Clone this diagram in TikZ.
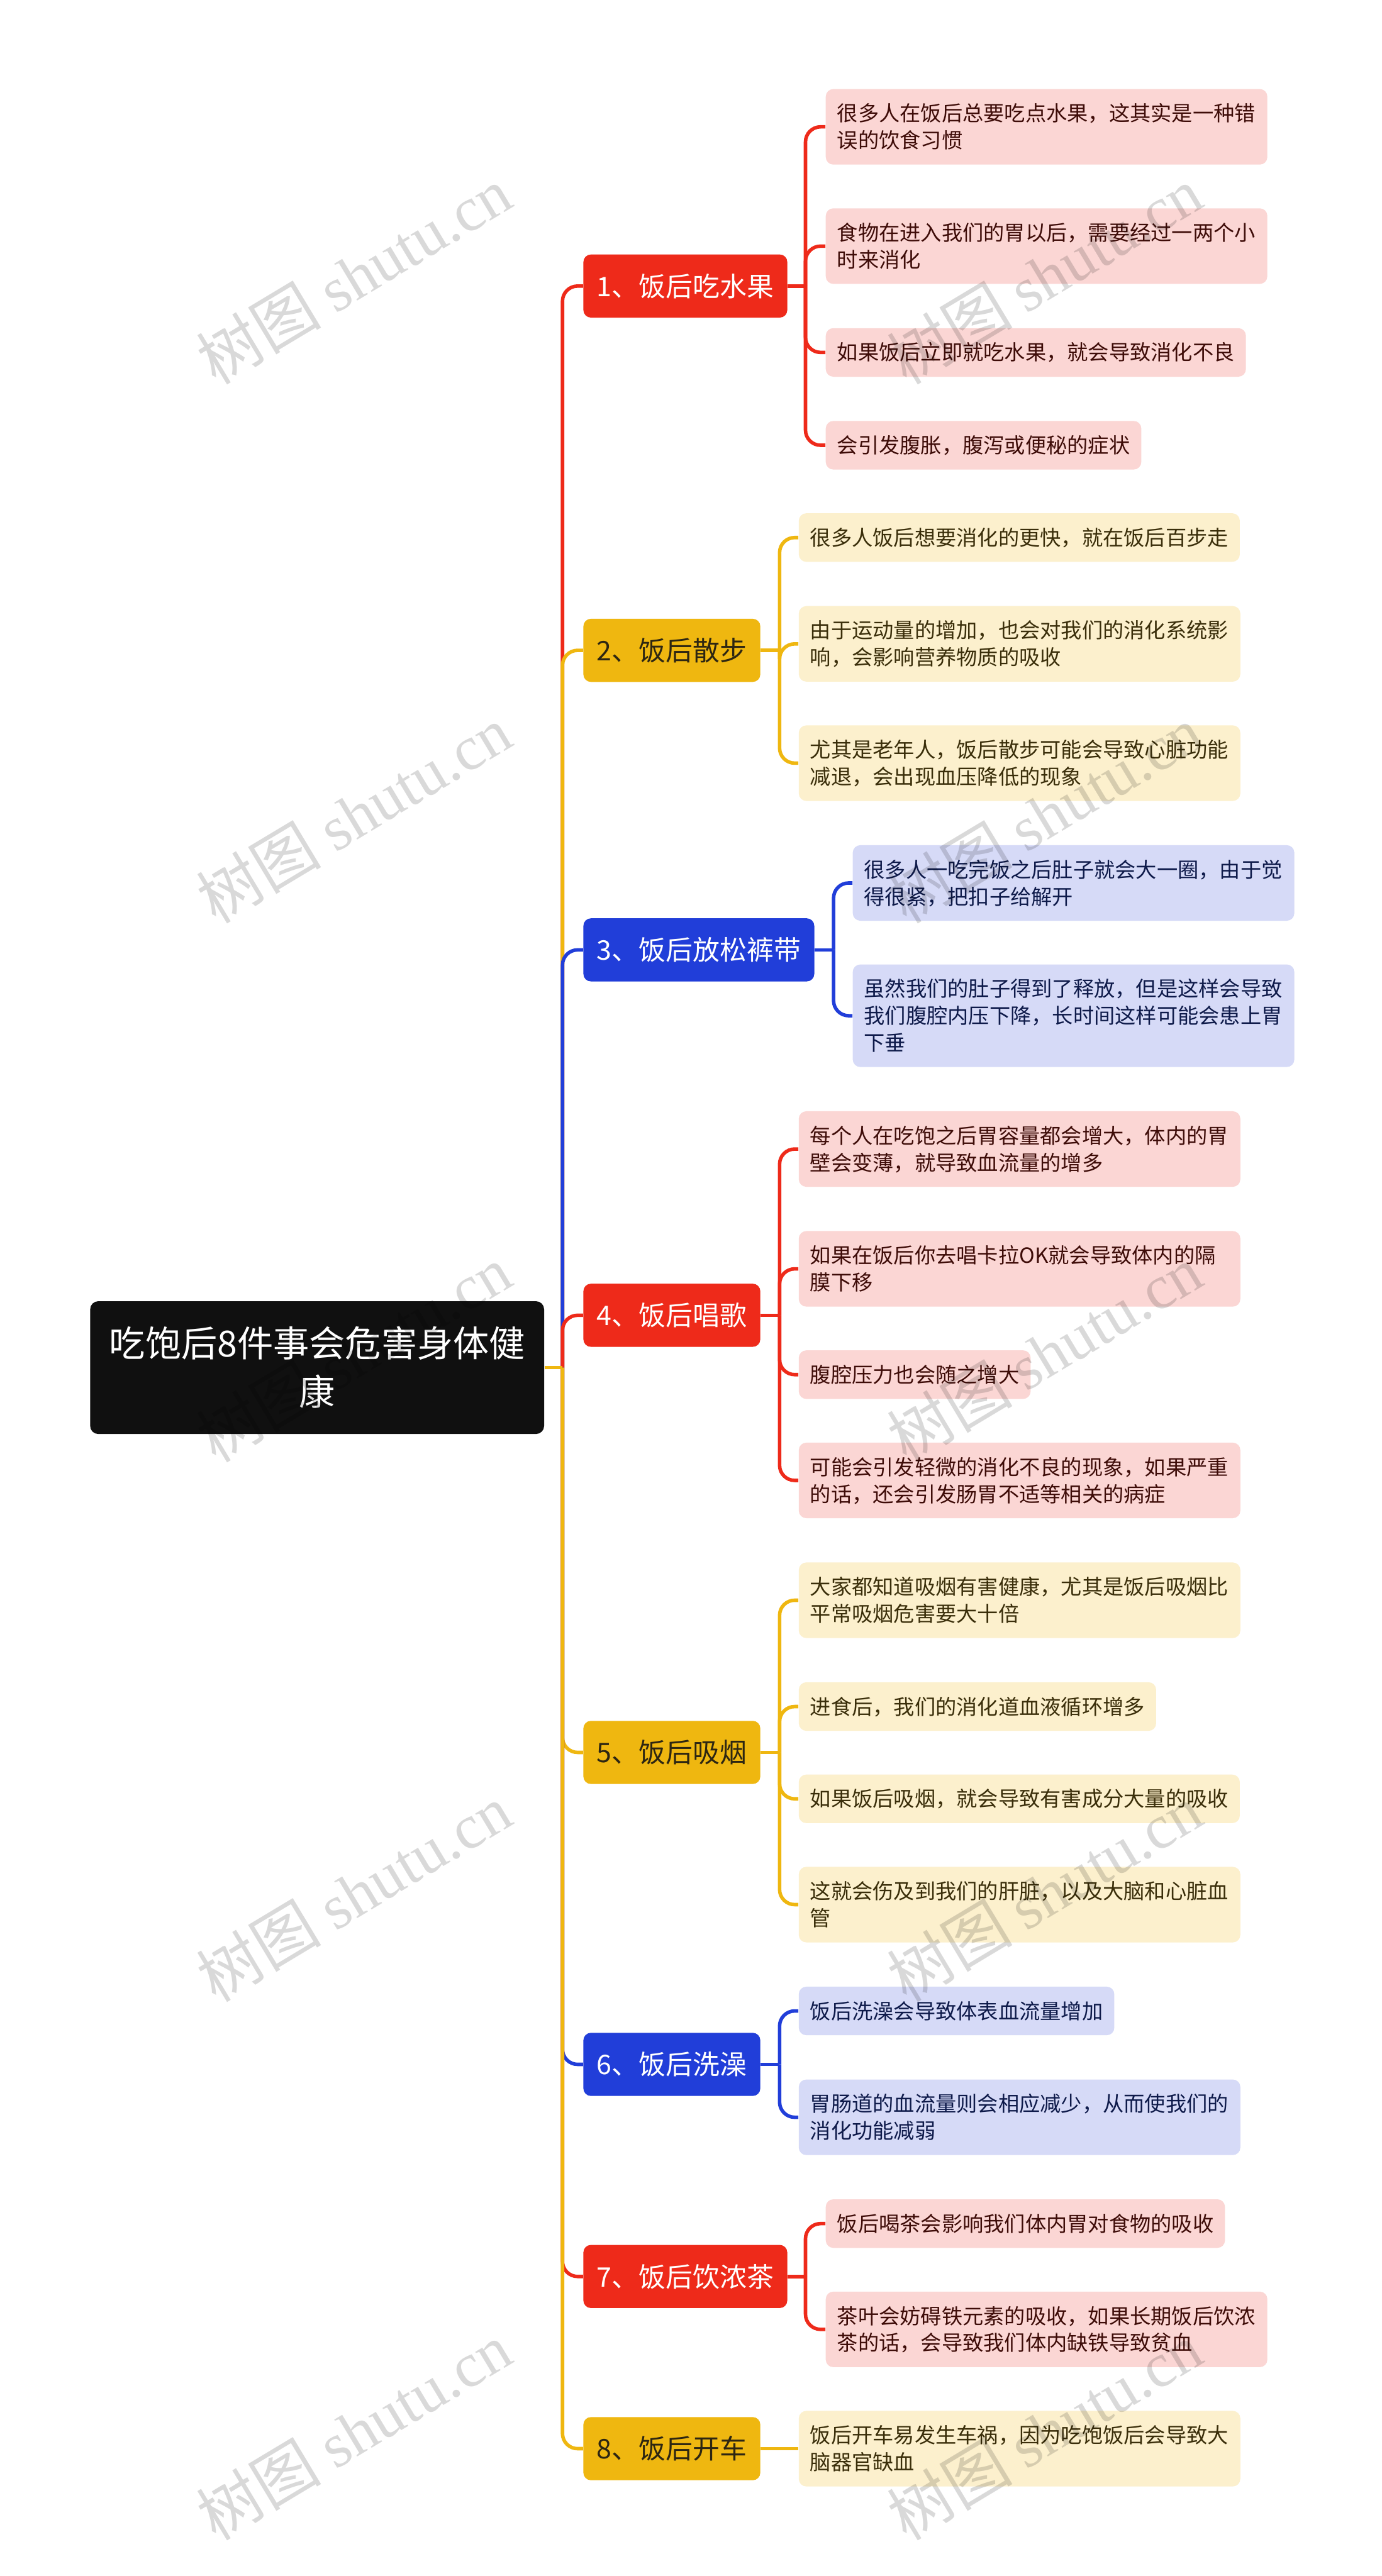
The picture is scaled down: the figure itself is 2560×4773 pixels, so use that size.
\documentclass[tikz,border=0pt]{standalone}
\usepackage{fontspec}
\setmainfont{Noto Sans CJK SC}
\newfontfamily\wmlatin{Liberation Serif}
\definecolor{cred}{RGB}{238,42,26}
\definecolor{cyel}{RGB}{239,183,16}
\definecolor{cblu}{RGB}{33,62,217}
\definecolor{lred}{RGB}{251,214,212}
\definecolor{lyel}{RGB}{252,240,205}
\definecolor{lblu}{RGB}{214,218,247}
\definecolor{tred}{RGB}{62,12,8}
\definecolor{tyel}{RGB}{58,46,10}
\definecolor{tblu}{RGB}{14,26,74}
\definecolor{tybr}{RGB}{45,38,18}
\definecolor{rootbg}{RGB}{16,16,16}
\tikzset{
 conn/.style={line width=0.65mm, rounded corners=2.8mm},
 boxbase/.style={rounded corners=1.4mm, inner ysep=0pt, anchor=west},
 branchbox/.style={boxbase, inner xsep=2.5mm, font=\fontsize{5mm}{6mm}\selectfont,
   execute at begin node={\rule{0pt}{7.75mm}}, execute at end node={\rule[-3.95mm]{0pt}{3.95mm}}},
 leafbox/.style={boxbase, inner xsep=2.1mm, align=left, font=\fontsize{3.875mm}{5mm}\selectfont,
   execute at begin node={\rule{0pt}{5.97mm}}, execute at end node={\rule[-3.03mm]{0pt}{3.03mm}}},
 multi/.style={text width=77.6mm},
 redb/.style={branchbox, fill=cred, text=white},
 yelb/.style={branchbox, fill=cyel, text=tybr},
 blub/.style={branchbox, fill=cblu, text=white},
 redl/.style={leafbox, fill=lred, text=tred},
 yell/.style={leafbox, fill=lyel, text=tyel},
 blul/.style={leafbox, fill=lblu, text=tblu},
 rootbox/.style={fill=rootbg, text=white, rounded corners=1.5mm, text width=77mm, inner xsep=3.55mm, inner ysep=0pt,
   align=center, font=\fontsize{6.67mm}{9mm}\selectfont,
   execute at begin node={\rule{0pt}{10.33mm}}, execute at end node={\rule[-5.27mm]{0pt}{5.27mm}}},
 wm/.style={text=black, text opacity=0.15, rotate=31, font=\fontsize{11.6mm}{11.6mm}\selectfont, inner sep=0pt},
}
\begin{document}
\begin{tikzpicture}[x=0.1mm, y=-0.1mm]
\fill[white] (0,0) rectangle (2560,4773);
\useasboundingbox (0,0) rectangle (2560,4773);

% root
\node[rootbox] (root) at (587.5,2534) {吃饱后8件事会危害身体健\\康};
\coordinate (J) at (1042,2534);

% branches
\node[redb] (b1) at (1080,530) {1、饭后吃水果};
\node[yelb] (b2) at (1080,1205) {2、饭后散步};
\node[blub] (b3) at (1080,1760) {3、饭后放松裤带};
\node[redb] (b4) at (1080,2437) {4、饭后唱歌};
\node[yelb] (b5) at (1080,3247) {5、饭后吸烟};
\node[blub] (b6) at (1080,3825) {6、饭后洗澡};
\node[redb] (b7) at (1080,4218) {7、饭后饮浓茶};
\node[yelb] (b8) at (1080,4537) {8、饭后开车};

% leaves
\node[redl, multi] (l1a) at (1529,235) {很多人在饭后总要吃点水果，这其实是一种错\\误的饮食习惯};
\node[redl, multi] (l1b) at (1529,456) {食物在进入我们的胃以后，需要经过一两个小\\时来消化};
\node[redl] (l1c) at (1529,653) {如果饭后立即就吃水果，就会导致消化不良};
\node[redl] (l1d) at (1529,825) {会引发腹胀，腹泻或便秘的症状};

\node[yell] (l2a) at (1479,996) {很多人饭后想要消化的更快，就在饭后百步走};
\node[yell, multi] (l2b) at (1479,1193) {由于运动量的增加，也会对我们的消化系统影\\响，会影响营养物质的吸收};
\node[yell, multi] (l2c) at (1479,1414) {尤其是老年人，饭后散步可能会导致心脏功能\\减退，会出现血压降低的现象};

\node[blul, multi] (l3a) at (1579,1636) {很多人一吃完饭之后肚子就会大一圈，由于觉\\得很紧，把扣子给解开};
\node[blul, multi] (l3b) at (1579,1882) {虽然我们的肚子得到了释放，但是这样会导致\\我们腹腔内压下降，长时间这样可能会患上胃\\下垂};

\node[redl, multi] (l4a) at (1479,2129) {每个人在吃饱之后胃容量都会增大，体内的胃\\壁会变薄，就导致血流量的增多};
\node[redl, multi] (l4b) at (1479,2351) {如果在饭后你去唱卡拉OK就会导致体内的隔\\膜下移};
\node[redl] (l4c) at (1479,2547) {腹腔压力也会随之增大};
\node[redl, multi] (l4d) at (1479,2743) {可能会引发轻微的消化不良的现象，如果严重\\的话，还会引发肠胃不适等相关的病症};

\node[yell, multi] (l5a) at (1479,2965) {大家都知道吸烟有害健康，尤其是饭后吸烟比\\平常吸烟危害要大十倍};
\node[yell] (l5b) at (1479,3162) {进食后，我们的消化道血液循环增多};
\node[yell] (l5c) at (1479,3333) {如果饭后吸烟，就会导致有害成分大量的吸收};
\node[yell, multi] (l5d) at (1479,3529) {这就会伤及到我们的肝脏，以及大脑和心脏血\\管};

\node[blul] (l6a) at (1479,3726) {饭后洗澡会导致体表血流量增加};
\node[blul, multi] (l6b) at (1479,3923) {胃肠道的血流量则会相应减少，从而使我们的\\消化功能减弱};

\node[redl] (l7a) at (1529,4120) {饭后喝茶会影响我们体内胃对食物的吸收};
\node[redl, multi] (l7b) at (1529,4316) {茶叶会妨碍铁元素的吸收，如果长期饭后饮浓\\茶的话，会导致我们体内缺铁导致贫血};

\node[yell, multi] (l8a) at (1479,4537) {饭后开车易发生车祸，因为吃饱饭后会导致大\\脑器官缺血};

% trunk connectors (later ones drawn over earlier ones)
\draw[conn, cred] (J) |- (b1.west);
\draw[conn, cyel] (J) |- (b2.west);
\draw[conn, cblu] (J) |- (b3.west);
\draw[conn, cred] (J) |- (b4.west);
\draw[conn, cyel] (J) |- (b5.west);
\draw[conn, cblu] (J) |- (b6.west);
\draw[conn, cred] (J) |- (b7.west);
\draw[conn, cyel] (J) |- (b8.west);
\draw[line width=0.65mm, cyel] (root.east) -- (J);

% branch to leaf connectors
\draw[line width=0.65mm, cred] (b1.east) -- ++(33,0) coordinate (j1);
\foreach \l in {l1a,l1b,l1c,l1d} \draw[conn, cred] (j1) |- (\l.west);
\draw[line width=0.65mm, cyel] (b2.east) -- ++(35,0) coordinate (j2);
\foreach \l in {l2a,l2b,l2c} \draw[conn, cyel] (j2) |- (\l.west);
\draw[line width=0.65mm, cblu] (b3.east) -- ++(35,0) coordinate (j3);
\foreach \l in {l3a,l3b} \draw[conn, cblu] (j3) |- (\l.west);
\draw[line width=0.65mm, cred] (b4.east) -- ++(35,0) coordinate (j4);
\foreach \l in {l4a,l4b,l4c,l4d} \draw[conn, cred] (j4) |- (\l.west);
\draw[line width=0.65mm, cyel] (b5.east) -- ++(35,0) coordinate (j5);
\foreach \l in {l5a,l5b,l5c,l5d} \draw[conn, cyel] (j5) |- (\l.west);
\draw[line width=0.65mm, cblu] (b6.east) -- ++(35,0) coordinate (j6);
\foreach \l in {l6a,l6b} \draw[conn, cblu] (j6) |- (\l.west);
\draw[line width=0.65mm, cred] (b7.east) -- ++(33,0) coordinate (j7);
\foreach \l in {l7a,l7b} \draw[conn, cred] (j7) |- (\l.west);
\draw[line width=0.65mm, cyel] (b8.east) -- (l8a.west);

% watermarks
\node[wm] (w1) at (655,510) {树图 {\wmlatin shutu.cn}};
\node[wm] (w2) at (1935,510) {树图 {\wmlatin shutu.cn}};
\node[wm] (w3) at (655,1509) {树图 {\wmlatin shutu.cn}};
\node[wm] (w4) at (1935,1509) {树图 {\wmlatin shutu.cn}};
\node[wm] (w5) at (655,2508) {树图 {\wmlatin shutu.cn}};
\node[wm] (w6) at (1935,2508) {树图 {\wmlatin shutu.cn}};
\node[wm] (w7) at (655,3507) {树图 {\wmlatin shutu.cn}};
\node[wm] (w8) at (1935,3507) {树图 {\wmlatin shutu.cn}};
\node[wm] (w9) at (655,4505) {树图 {\wmlatin shutu.cn}};
\node[wm] (w10) at (1935,4505) {树图 {\wmlatin shutu.cn}};
\end{tikzpicture}
\end{document}
